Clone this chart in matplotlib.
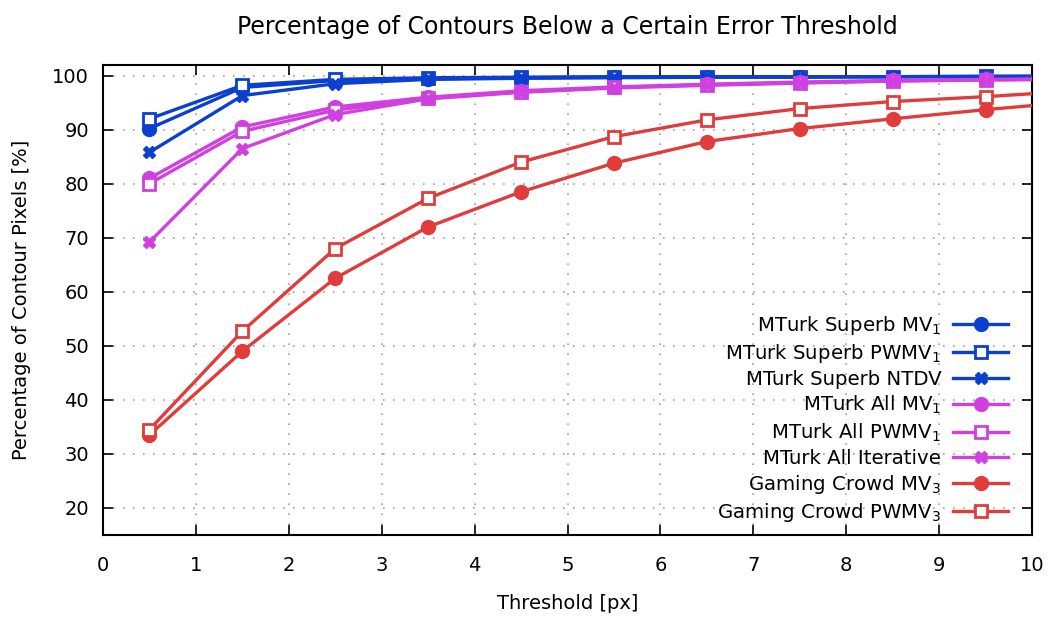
import matplotlib
matplotlib.use("Agg")
import matplotlib.pyplot as plt

plt.rcParams['font.family'] = ['DejaVu Sans']

thresholds = [0.5, 1.5, 2.5, 3.5, 4.5, 5.5, 6.5, 7.5, 8.5, 9.5, 10.5]

superb_mv1 = [90.2, 97.8, 99.1, 99.4, 99.6, 99.7, 99.7, 99.8, 99.8, 99.8, 99.85]
superb_pwmv1 = [92.0, 98.2, 99.3, 99.6, 99.7, 99.8, 99.8, 99.8, 99.8, 99.9, 99.9]
superb_ntdv = [85.8, 96.3, 98.5, 99.3, 99.5, 99.6, 99.7, 99.7, 99.8, 99.8, 99.85]
all_mv1 = [81.0, 90.5, 94.2, 96.0, 97.2, 97.9, 98.4, 98.8, 99.1, 99.3, 99.45]
all_pwmv1 = [80.0, 89.7, 93.6, 95.8, 97.0, 97.8, 98.3, 98.7, 99.0, 99.2, 99.35]
all_iter = [69.2, 86.5, 92.8, 95.7, 96.9, 97.7, 98.2, 98.6, 99.0, 99.2, 99.35]
gaming_mv3 = [33.5, 49.0, 62.5, 72.0, 78.5, 83.8, 87.8, 90.2, 92.0, 93.7, 95.2]
gaming_pwmv3 = [34.5, 52.7, 68.0, 77.3, 84.0, 88.7, 91.8, 93.9, 95.2, 96.1, 97.2]

labels = ["MTurk Superb MV$_1$", "MTurk Superb PWMV$_1$", "MTurk Superb NTDV",
          "MTurk All MV$_1$", "MTurk All PWMV$_1$", "MTurk All Iterative",
          "Gaming Crowd MV$_3$", "Gaming Crowd PWMV$_3$"]

xticks = list(range(0, 11))
yticks = list(range(20, 101, 10))

blue = '#0a3fd0'
mag = '#d040e0'
red = '#e03c3c'

series = [
    (superb_mv1, blue, 'o', True),
    (superb_pwmv1, blue, 's', False),
    (superb_ntdv, blue, 'X', True),
    (all_mv1, mag, 'o', True),
    (all_pwmv1, mag, 's', False),
    (all_iter, mag, 'X', True),
    (gaming_mv3, red, 'o', True),
    (gaming_pwmv3, red, 's', False),
]

fig = plt.figure(figsize=(10.51, 6.17), dpi=100)
ax = fig.add_axes([0.098, 0.133, 0.884, 0.762])

for (vals, col, mk, filled), lab in zip(series, labels):
    ms = 10 if mk == 'o' else (8.5 if mk == 's' else 8)
    ax.plot(thresholds, vals, color=col, lw=2.4, marker=mk, markersize=ms,
            markerfacecolor=col if filled else 'white', markeredgecolor=col,
            markeredgewidth=2.0 if not filled else 1.0, label=lab, zorder=3)

ax.set_xlim(0, 10)
ax.set_ylim(15, 102)
ax.set_xticks(xticks)
ax.set_yticks(yticks)
ax.tick_params(direction='in', top=True, right=True, length=7, width=1.2,
               labelsize=14)
ax.tick_params(axis='x', pad=15)
ax.tick_params(axis='y', pad=10)
for s in ax.spines.values():
    s.set_linewidth(1.5)
ax.grid(True, color='#a0a0a0', linestyle=(0, (1, 5)), linewidth=1.2)
ax.set_axisbelow(True)

ax.set_xlabel("Threshold [px]", fontsize=14, labelpad=14)
ax.set_ylabel("Percentage of Contour Pixels [%]", fontsize=14, labelpad=15)
ax.set_title("Percentage of Contours Below a Certain Error Threshold", fontsize=17, pad=22)

leg = ax.legend(loc='lower right', frameon=False, markerfirst=False, fontsize=14.2,
                handlelength=2.8, labelspacing=0.26, borderaxespad=0.15,
                handletextpad=0.6, bbox_to_anchor=(0.986, 0.0))
for t in leg.get_texts():
    t.set_ha('right')

fig.savefig("out.png", dpi=100)
